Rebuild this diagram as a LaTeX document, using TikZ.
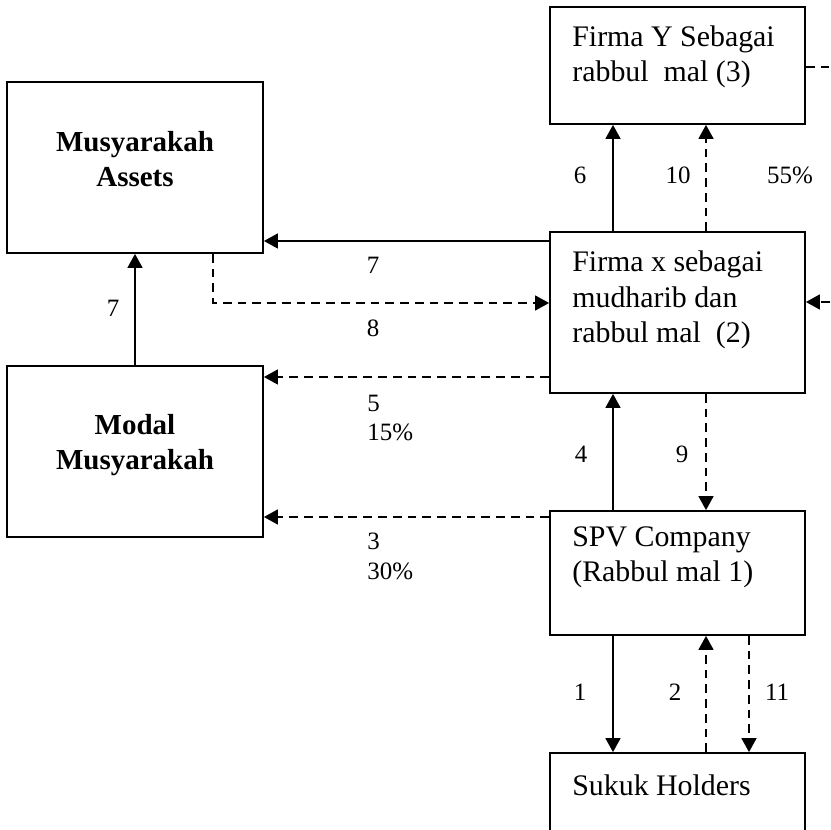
\documentclass[tikz,border=0pt]{standalone}
\usepackage{fontspec}
\setmainfont{Liberation Serif}
\usetikzlibrary{arrows.meta, positioning, fit}

\tikzset{
  box/.style={draw, line width=1pt, inner sep=0pt},
  boxtext/.style={font=\fontsize{17}{20.3}\selectfont, align=left,
    inner sep=0pt, anchor=base west},
  boldtext/.style={font=\fontsize{16.5}{20}\selectfont\bfseries,
    align=center, inner sep=0pt},
  num/.style={font=\fontsize{14.2}{17}\selectfont, inner sep=0pt},
  numblock/.style={num, align=left, anchor=west},
  flow/.style={line width=1.1pt, -{Triangle[length=8pt, width=8.5pt]}},
  flowdash/.style={flow, dash pattern=on 5pt off 3.4pt},
  flowline/.style={line width=1.1pt, dash pattern=on 5pt off 3.4pt},
}

\begin{document}
\begin{tikzpicture}[x=0.02cm, y=-0.02cm]
  \useasboundingbox (0,0) rectangle (831,830);

  % Boxes on the right
  \node[box, fit={(550,7) (805,124)}] (firmaY) {};
  \node[box, fit={(550,232) (805,393)}] (firmaX) {};
  \node[box, fit={(550,511) (805,635)}] (spv) {};
  \node[box, fit={(550,753) (805,880)}] (sukuk) {};

  % (base of the last line)
  \node[boxtext] (firmaYtext) at (572,82) {Firma Y Sebagai\\rabbul~ mal (3)};
  \node[boxtext] (firmaXtext) at (572,343) {Firma x sebagai\\mudharib dan\\rabbul mal~ (2)};
  \node[boxtext] (spvtext) at (572,582) {SPV Company\\(Rabbul mal 1)};
  \node[boxtext] (sukuktext) at (572,795) {Sukuk Holders};

  % Boxes on the left
  \node[box, fit={(7,82) (263,253)}] (assets) {};
  \node[box, fit={(7,366) (263,537)}] (modal) {};

  \node[boldtext] (assetstext) at (135,159) {Musyarakah\\Assets};
  \node[boldtext] (modaltext) at (135,445) {Modal\\Musyarakah};

  % Loose ends on the right edge
  \coordinate (outY) at (845,67);
  \coordinate (outX) at (845,302);

  % Horizontal flows
  \draw[flow] (firmaX.west |- 0,241) -- (assets.east |- 0,241);
  \draw[flowdash] (assets.south -| 213,0) |- (firmaX.west |- 0,303);
  \draw[flowdash] (firmaX.west |- 0,377) -- (modal.east |- 0,377);
  \draw[flowdash] (spv.west |- 0,517) -- (modal.east |- 0,517);
  \draw[flowline] (firmaY.east |- outY) -- (outY);
  \draw[flowdash] (outX) -- (firmaX.east |- outX);

  % Vertical flows
  \draw[flow] (modal.north) -- (assets.south);
  \draw[flow] (firmaX.north -| 613,0) -- (firmaY.south -| 613,0);
  \draw[flowdash] (firmaX.north -| 706,0) -- (firmaY.south -| 706,0);
  \draw[flow] (spv.north -| 613,0) -- (firmaX.south -| 613,0);
  \draw[flowdash] (firmaX.south -| 706,0) -- (spv.north -| 706,0);
  \draw[flow] (spv.south -| 613,0) -- (sukuk.north -| 613,0);
  \draw[flowdash] (sukuk.north -| 706,0) -- (spv.south -| 706,0);
  \draw[flowdash] (spv.south -| 749,0) -- (sukuk.north -| 749,0);

  % Step numbers
  \node[num] (n7top) at (373,265) {7};
  \node[num] (n8) at (373,328) {8};
  \node[numblock] (n5) at (367,418) {5\\15\%};
  \node[numblock] (n3) at (367,556) {3\\30\%};
  \node[num] (n7left) at (113,308) {7};
  \node[num] (n6) at (580,175) {6};
  \node[num] (n10) at (678,175) {10};
  \node[num] (n55) at (790,175) {55\%};
  \node[num] (n4) at (581,454) {4};
  \node[num] (n9) at (682,454) {9};
  \node[num] (n1) at (580,692) {1};
  \node[num] (n2) at (675,692) {2};
  \node[num] (n11) at (777,692) {11};
\end{tikzpicture}
\end{document}
